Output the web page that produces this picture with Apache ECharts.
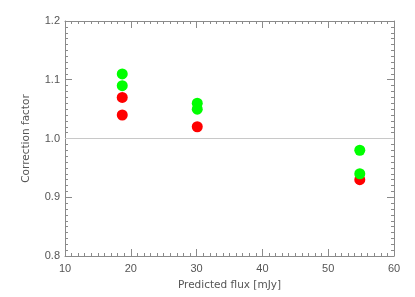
<!DOCTYPE html>
<html>
<head>
<meta charset="utf-8">
<script src="https://cdn.jsdelivr.net/npm/echarts@6/dist/echarts.min.js"></script>
<style>html,body{margin:0;padding:0;background:#fff}#c{width:415px;height:297px}</style>
</head>
<body>
<div id="c"></div>
<script>
var xGroups = [18.7, 30.1, 54.8];
var greenX = [18.7, 18.7, 30.1, 30.1, 54.8, 54.8];
var greenY = [1.11, 1.09, 1.06, 1.05, 0.98, 0.94];
var redX = [18.7, 18.7, 30.1, 54.8];
var redY = [1.07, 1.04, 1.02, 0.93];
var refValue = 1.0;
var xTicks = [10, 20, 30, 40, 50, 60];
var yTicks = [0.8, 0.9, 1.0, 1.1, 1.2];

var axisColor = '#8a8a8a';
var textColor = '#555';
var font = 'Liberation Sans';
var nameFont = 'DejaVu Sans';

function xAxisDef(pos, showLabel) {
  return {
    type: 'value', position: pos, min: xTicks[0], max: xTicks[xTicks.length - 1], interval: 10,
    name: showLabel ? 'Predicted flux [mJy]' : '', nameLocation: 'middle', nameGap: 24,
    nameTextStyle: { color: textColor, fontFamily: nameFont, fontSize: 10.5 },
    axisLine: { show: true, lineStyle: { color: axisColor, width: 1 } },
    axisTick: { show: true, inside: true, length: 7, lineStyle: { color: axisColor } },
    minorTick: { show: true, splitNumber: 10, length: 3, lineStyle: { color: axisColor } },
    axisLabel: { show: showLabel, color: textColor, fontFamily: font, fontSize: 11, margin: 7 },
    splitLine: { show: false }
  };
}
function yAxisDef(pos, showLabel) {
  return {
    type: 'value', position: pos, min: yTicks[0], max: yTicks[yTicks.length - 1], interval: 0.1,
    name: showLabel ? 'Correction factor' : '', nameLocation: 'middle', nameGap: 33, nameRotate: 90,
    nameTextStyle: { color: textColor, fontFamily: nameFont, fontSize: 10.5 },
    axisLine: { show: true, lineStyle: { color: axisColor, width: 1 } },
    axisTick: { show: true, inside: true, length: 7, lineStyle: { color: axisColor } },
    minorTick: { show: true, splitNumber: 10, length: 3, lineStyle: { color: axisColor } },
    axisLabel: { show: showLabel, color: textColor, fontFamily: font, fontSize: 11, margin: 5,
      formatter: function (v) { return v.toFixed(1); } },
    splitLine: { show: false }
  };
}

function pairs(xs, ys) { return xs.map(function (x, i) { return [x, ys[i]]; }); }

var chart = echarts.init(document.getElementById('c'), null, { renderer: 'canvas' });
chart.setOption({
  animation: false,
  backgroundColor: '#fff',
  grid: { left: 65, right: 21, top: 21, bottom: 41 },
  xAxis: [xAxisDef('bottom', true), xAxisDef('top', false)],
  yAxis: [yAxisDef('left', true), yAxisDef('right', false)],
  series: [
    {
      type: 'scatter', name: 'red', xAxisIndex: 0, yAxisIndex: 0,
      data: pairs(redX, redY), symbolSize: 11,
      itemStyle: { color: '#ff0000', opacity: 1 },
      markLine: {
        silent: true, symbol: 'none', label: { show: false },
        lineStyle: { color: '#c8c8c8', width: 1, type: 'solid' },
        data: [{ yAxis: refValue }]
      },
      z: 2
    },
    {
      type: 'scatter', name: 'green', xAxisIndex: 0, yAxisIndex: 0,
      data: pairs(greenX, greenY), symbolSize: 11,
      itemStyle: { color: '#00ff00', opacity: 1 },
      z: 3
    }
  ]
});
</script>
</body>
</html>
